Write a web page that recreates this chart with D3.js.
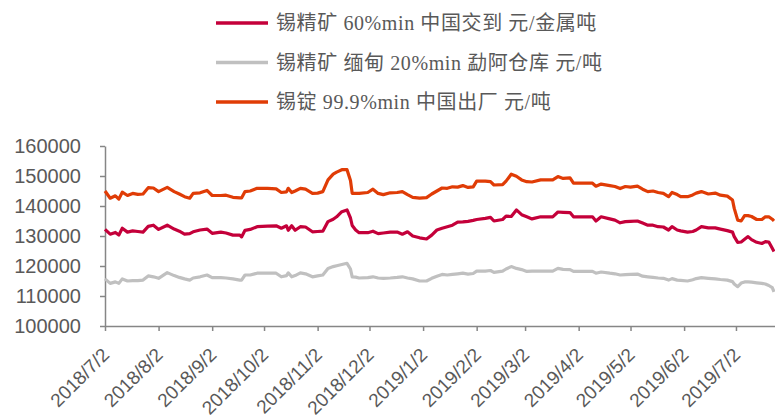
<!DOCTYPE html>
<html>
<head>
<meta charset="utf-8">
<script src="https://cdn.jsdelivr.net/npm/d3@7"></script>
<style>
  html, body { margin: 0; padding: 0; background: #fff; }
  svg { display: block; }
</style>
</head>
<body>
<svg id="chart" width="775" height="416"></svg>
<script>
// Trading dates shared by the three price series
const dates = [
  "2018-07-02","2018-07-05","2018-07-08","2018-07-10","2018-07-12","2018-07-15","2018-07-18","2018-07-21","2018-07-24","2018-07-27",
  "2018-07-30","2018-08-02","2018-08-07","2018-08-11","2018-08-14","2018-08-17","2018-08-20","2018-08-22","2018-08-26","2018-08-30",
  "2018-09-02","2018-09-07","2018-09-10","2018-09-14","2018-09-18","2018-09-19","2018-09-21","2018-09-24","2018-09-28","2018-10-04",
  "2018-10-09","2018-10-12","2018-10-15","2018-10-16","2018-10-18","2018-10-20","2018-10-23","2018-10-26","2018-10-30","2018-11-02",
  "2018-11-05","2018-11-08","2018-11-11","2018-11-13","2018-11-16","2018-11-19","2018-11-21","2018-11-22","2018-11-24","2018-11-26",
  "2018-12-01","2018-12-04","2018-12-07","2018-12-10","2018-12-14","2018-12-18","2018-12-21","2018-12-24","2018-12-27","2018-12-31",
  "2019-01-04","2019-01-07","2019-01-10","2019-01-13","2019-01-16","2019-01-19","2019-01-22","2019-01-25","2019-01-28","2019-01-31",
  "2019-02-02","2019-02-07","2019-02-10","2019-02-12","2019-02-17","2019-02-19","2019-02-22","2019-02-25","2019-02-28","2019-03-03",
  "2019-03-06","2019-03-11","2019-03-15","2019-03-18","2019-03-21","2019-03-24","2019-03-28","2019-03-30","2019-04-04","2019-04-10",
  "2019-04-12","2019-04-15","2019-04-20","2019-04-23","2019-04-26","2019-04-29","2019-05-02","2019-05-06","2019-05-09","2019-05-12",
  "2019-05-15","2019-05-18","2019-05-21","2019-05-24","2019-05-26","2019-05-29","2019-05-31","2019-06-04","2019-06-07","2019-06-09",
  "2019-06-12","2019-06-16","2019-06-20","2019-06-23","2019-06-27","2019-06-30","2019-07-01","2019-07-03","2019-07-05","2019-07-07",
  "2019-07-09","2019-07-11","2019-07-14","2019-07-17","2019-07-19","2019-07-21","2019-07-23","2019-07-24"
];

// 锡精矿 60%min 中国交到 (元/金属吨)
const concChina = [
  132200,130600,131200,130300,132600,131300,131700,131500,131300,133200,
  133600,132200,133600,132300,131600,130600,130800,131400,132000,132300,
  130900,131300,131000,130300,130300,129700,131900,132200,133100,133300,
  133400,132600,133400,131900,133400,131900,133100,133000,131400,131500,
  131600,134800,135600,136400,138100,138700,136000,133500,132000,131100,
  131100,131600,130800,131000,131300,131300,130600,131400,130000,129400,
  129000,130300,132000,132600,133100,133600,134600,134700,134900,135200,
  135500,135900,136200,135000,135500,136600,136500,138700,137100,136400,
  135700,136400,136400,136400,138000,137900,137800,136400,136400,136400,
  135000,136400,135700,135300,134400,134800,134900,135000,134300,133600,
  133600,133100,133000,132000,133100,132000,131700,131300,131500,132000,
  133100,132700,132700,132300,131800,131300,129800,127900,128000,128900,
  129800,128800,127900,127500,128100,128000,125900,124800
];

// 锡精矿 缅甸 20%min 勐阿仓库 (元/吨)
const concMyanmar = [
  115700,114200,114700,114200,115700,115000,115100,115100,115300,116700,
  116400,115900,117800,116800,116200,115700,115300,116000,116400,117000,
  116100,116100,116000,115700,115300,115300,117000,117000,117600,117600,
  117600,116400,116800,117700,116400,116800,117700,117400,116400,116700,
  117000,119200,119800,120100,120500,120900,119000,116400,116300,116000,
  116100,116400,116000,115900,116000,116200,116400,116000,115700,115000,
  115000,115900,116600,117200,117000,117200,117400,117600,117300,117500,
  118300,118300,118500,117900,118300,119000,119800,119200,118800,118200,
  118300,118300,118300,118300,119200,118900,118800,118200,118200,118200,
  117600,118000,117600,117400,117000,117100,117200,117300,116600,116400,
  116200,116000,115900,115300,115800,115300,115200,115000,115400,115800,
  116100,115900,115700,115500,115300,114800,114000,113100,114300,114700,
  114700,114600,114400,114200,114000,113500,112800,111400
];

// 锡锭 99.9%min 中国出厂 (元/吨)
const ingotChina = [
  145000,142600,143400,142300,144600,143500,144200,143900,144000,146100,
  146000,144800,146200,144800,144000,143100,142600,144200,144400,145200,
  143500,143500,143600,142900,142700,142700,144800,145000,145900,145900,
  145700,144500,144700,145900,144500,145000,145900,145600,144200,144300,
  144800,148700,150600,151300,152100,152100,148500,144200,144200,144200,
  144500,145600,144200,143800,144400,144500,144800,143800,142900,142600,
  142800,144000,145000,146000,145900,146400,146300,146800,146200,146400,
  148300,148300,148100,147000,147100,148300,150600,149900,148700,148100,
  148000,148700,148700,148700,149800,149200,149400,147600,147600,147600,
  146600,147300,146800,146500,145800,146500,146300,146600,145600,144800,
  145000,144500,144200,143100,144500,143800,143100,143100,143700,144300,
  144800,144000,144300,143600,143300,142000,139200,135300,135000,136800,
  136800,136500,135500,135500,136400,136400,135600,135000
];

const seriesNames = [
  "锡精矿 60%min 中国交到 元/金属吨",
  "锡精矿 缅甸 20%min 勐阿仓库 元/吨",
  "锡锭 99.9%min 中国出厂 元/吨"
];
const seriesColors = ["#C4003A", "#C0C0C0", "#E03C06"];
const seriesValues = [concChina, concMyanmar, ingotChina];

const yTicks = [100000, 110000, 120000, 130000, 140000, 150000, 160000];
const xTickDates = [
  "2018-07-02","2018-08-02","2018-09-02","2018-10-02","2018-11-02","2018-12-02",
  "2019-01-02","2019-02-02","2019-03-02","2019-04-02","2019-05-02","2019-06-02","2019-07-02"
];

const parse = d3.timeParse("%Y-%m-%d");
const fmtTick = d3.timeFormat("%Y/%-m/%-d");
const parsedDates = dates.map(parse);

const svg = d3.select("#chart");
const plotLeft = 105, plotRight = 774, plotTop = 146, plotBottom = 326;

const x = d3.scaleTime()
  .domain([parsedDates[0], parsedDates[parsedDates.length - 1]])
  .range([plotLeft, plotRight]);
const y = d3.scaleLinear().domain([100000, 160000]).range([plotBottom, plotTop]);

const axisColor = "#868686";
const labelColor = "#595959";

// Y axis
const yAxis = svg.append("g")
  .attr("transform", `translate(${plotLeft},0)`)
  .call(d3.axisLeft(y).tickValues(yTicks).tickFormat(d3.format("d")).tickSize(5).tickPadding(19).tickSizeOuter(0));
yAxis.select(".domain").attr("stroke", axisColor).attr("stroke-width", 1.5);
yAxis.selectAll(".tick line").attr("stroke", axisColor).attr("stroke-width", 1.5);
yAxis.selectAll(".tick text")
  .attr("fill", labelColor)
  .style("font-family", "'Liberation Sans', Arial, sans-serif")
  .style("font-size", "20px");

// X axis
const xAxis = svg.append("g")
  .attr("transform", `translate(0,${plotBottom})`)
  .call(d3.axisBottom(x).tickValues(xTickDates.map(parse)).tickFormat(fmtTick).tickSize(5).tickSizeOuter(0));
xAxis.select(".domain").attr("stroke", axisColor).attr("stroke-width", 1.5)
  .attr("d", `M${plotLeft},0.5H775`);
xAxis.selectAll(".tick line").attr("stroke", axisColor).attr("stroke-width", 1.5);
xAxis.selectAll(".tick text")
  .attr("fill", labelColor)
  .style("font-family", "'Liberation Sans', Arial, sans-serif")
  .style("font-size", "19px")
  .attr("text-anchor", "end")
  .attr("dy", "0")
  .attr("y", 0)
  .attr("transform", "translate(5,30) rotate(-45)");

// Series lines
const line = d3.line()
  .x((d, i) => x(parsedDates[i]))
  .y(d => y(d));

[1, 0, 2].forEach(k => {
  svg.append("path")
    .datum(seriesValues[k])
    .attr("fill", "none")
    .attr("stroke", seriesColors[k])
    .attr("stroke-width", 3.2)
    .attr("stroke-linejoin", "round")
    .attr("d", line);
});

// Legend
const legend = svg.append("g");
seriesNames.forEach((name, i) => {
  const ly = 23 + i * 39.5;
  legend.append("line")
    .attr("x1", 216).attr("x2", 268)
    .attr("y1", ly).attr("y2", ly)
    .attr("stroke", seriesColors[i])
    .attr("stroke-width", 3.5);
  legend.append("text")
    .attr("x", 276).attr("y", ly)
    .attr("dy", "0.35em")
    .attr("fill", labelColor)
    .style("font-family", "'Liberation Serif', 'Noto Sans CJK SC', serif")
    .style("font-size", "20px")
    .style("letter-spacing", "0.6px")
    .text(name);
});
</script>
</body>
</html>
